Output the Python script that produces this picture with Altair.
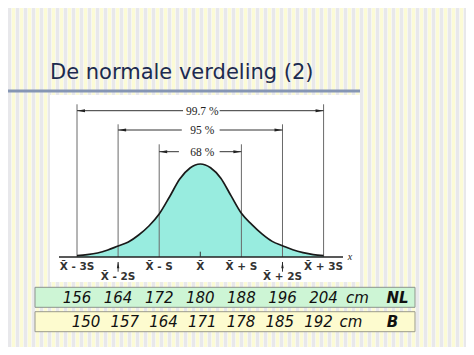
import altair as alt
import pandas as pd

# ---------------- data ----------------
title_text = "De normale verdeling (2)"

curve_z = [-3, -2.75, -2.5, -2.25, -2, -1.75, -1.5, -1.25, -1, -0.75, -0.5, -0.25, 0,
           0.25, 0.5, 0.75, 1, 1.25, 1.5, 1.75, 2, 2.25, 2.5, 2.75, 3]
curve_density = [0.0056, 0.0099, 0.0172, 0.030, 0.0472, 0.0644, 0.0944, 0.133, 0.1845,
                 0.2574, 0.3346, 0.382, 0.399,
                 0.383, 0.338, 0.262, 0.1875, 0.140, 0.099, 0.067, 0.0485, 0.031, 0.0185,
                 0.010, 0.0056]

sd_steps = [-3, -2, -1, 0, 1, 2, 3]
X = "X\u0304"
sd_labels = [f"{X} - 3S", f"{X} - 2S", f"{X} - S", X, f"{X} + S", f"{X} + 2S", f"{X} + 3S"]

coverage_labels = ["99.7 %", "95  %", "68  %"]
coverage_k = [3, 2, 1]

nl_cm = [156, 164, 172, 180, 188, 196, 204]
b_cm = [150, 157, 164, 171, 178, 185, 192]
unit_label = "cm"
row_names = ["NL", "B"]

# ---------------- layout (pixels, styles) ----------------
W, H = 310, 187
PAD = {"left": 42, "top": 87, "right": 106, "bottom": 65}
Z_DOM = [-3.657, 3.886]
Y_DOM = [-0.1073, 0.695]
LINE_TOP = {3: 9.3, 2: 29.3, 1: 49.3}
ARROW_Y = {3: 15.7, 2: 35.0, 1: 56.7}
GAP = {3: (-0.42, 0.47), 2: (-0.45, 0.47), 1: (-0.52, 0.47)}
ZS = 41.1      # pixels per sd unit
Z0 = 200.3     # page x of the mean

XSCALE = alt.Scale(domain=Z_DOM, nice=False, zero=False)
YSCALE = alt.Scale(domain=Y_DOM, nice=False, zero=False)


def xz(field):
    return alt.X(field, type="quantitative", scale=XSCALE, axis=None)


def yd(field):
    return alt.Y(field, type="quantitative", scale=YSCALE, axis=None)


one = pd.DataFrame({"t": [title_text], "zero": [0]})

layers = []

# striped slide background
for off, w, col in [(0.0, 3.0, "#e8e8eb"), (4.0, 3.0, "#fcfbd6")]:
    layers.append(
        alt.Chart(alt.sequence(0, 60, as_="i"))
        .transform_calculate(
            a=f"(datum.i * 8 + {off} - {Z0}) / {ZS}",
            b=f"(datum.i * 8 + {off + w} - {Z0}) / {ZS}")
        .mark_rect(color=col)
        .encode(x=xz("a"), x2="b:Q", y=alt.value(-87), y2=alt.value(252))
    )

# white panel
layers.append(alt.Chart(one).mark_rect(color="white").encode(
    x=alt.value(0), x2=alt.value(W), y=alt.value(0), y2=alt.value(H)))

# title + underline
layers.append(alt.Chart(one).mark_rule(color="#8696b4", strokeWidth=3).encode(
    x=alt.value(-42), x2=alt.value(W), y=alt.value(-4)))
layers.append(alt.Chart(one).mark_text(
    align="left", baseline="alphabetic", font="DejaVu Sans", fontSize=21, color="#1c2b4f"
).encode(x=alt.value(0), y=alt.value(-16), text="t:N"))

# curve fill
curve = pd.DataFrame({"z": curve_z, "d": curve_density})
layers.append(alt.Chart(curve).mark_area(color="#98ecdf", interpolate="monotone").encode(
    x=xz("z"), y=yd("d")))

# vertical lines, arrows and coverage labels
for k, lab in zip(coverage_k, coverage_labels):
    vl = pd.DataFrame({"z": [-k, k], "zero": [0, 0]})
    layers.append(alt.Chart(vl).mark_rule(color="#6a6a6a", strokeWidth=1).encode(
        x=xz("z"), y=yd("zero"), y2=alt.value(LINE_TOP[k])))
    gl, gr = GAP[k]
    seg = pd.DataFrame({"z1": [-k, gr], "z2": [gl, k]})
    ay = ARROW_Y[k]
    layers.append(alt.Chart(seg).mark_rule(color="#333333", strokeWidth=1).encode(
        x=xz("z1"), x2="z2:Q", y=alt.value(ay)))
    layers.append(alt.Chart(pd.DataFrame({"z": [-k]})).mark_point(
        shape="M -1 0 L 1 -0.36 L 1 0.36 Z", filled=True, size=64, color="#222222",
        opacity=1, xOffset=4).encode(x=xz("z"), y=alt.value(ay)))
    layers.append(alt.Chart(pd.DataFrame({"z": [k]})).mark_point(
        shape="M 1 0 L -1 -0.36 L -1 0.36 Z", filled=True, size=64, color="#222222",
        opacity=1, xOffset=-4).encode(x=xz("z"), y=alt.value(ay)))
    layers.append(alt.Chart(pd.DataFrame({"z": [0], "t": [lab]})).mark_text(
        font="Liberation Serif", fontSize=11.5, color="#222222", align="center",
        baseline="middle", dx=2).encode(x=xz("z"), y=alt.value(ay + 1), text="t:N"))

# curve outline
layers.append(alt.Chart(curve).mark_line(color="#1a1a1a", strokeWidth=1.7,
                                         interpolate="monotone").encode(x=xz("z"), y=yd("d")))

# baseline axis, mean tick, x label
layers.append(alt.Chart(one).mark_rule(color="#222222", strokeWidth=1.5).encode(
    x=alt.value(9), x2=alt.value(293), y=yd("zero")))
layers.append(alt.Chart(pd.DataFrame({"z": [0], "zero": [0]})).mark_rule(
    color="#333333", strokeWidth=1).encode(x=xz("z"), y=yd("zero"), y2=alt.value(156.7)))
layers.append(alt.Chart(pd.DataFrame({"t": ["x"]})).mark_text(
    font="Liberation Serif", fontStyle="italic", fontSize=10, color="#222222", align="center",
    baseline="alphabetic").encode(x=alt.value(300), y=alt.value(165), text="t:N"))

# sd labels
sd = pd.DataFrame({"z": sd_steps, "t": sd_labels})
lab_style = dict(font="DejaVu Sans", fontSize=10.5, fontWeight="bold", color="#333333",
                 align="center", baseline="alphabetic")
layers.append(alt.Chart(sd).transform_filter("abs(datum.z) != 2").mark_text(**lab_style).encode(
    x=xz("z"), y=alt.value(174.5), text="t:N"))
layers.append(alt.Chart(sd).transform_filter("abs(datum.z) == 2").mark_text(**lab_style).encode(
    x=xz("z"), y=alt.value(184.5), text="t:N"))
layers.append(alt.Chart(sd).transform_filter("abs(datum.z) == 2").mark_rule(
    color="#333333", strokeWidth=1).encode(x=xz("z"), y=alt.value(167), y2=alt.value(176.7)))
layers.append(alt.Chart(sd).transform_filter("abs(datum.z) == 2").mark_point(
    shape="M 0 -1 L -0.38 1 L 0.38 1 Z", filled=True, size=40, color="#222222", opacity=1
).encode(x=xz("z"), y=alt.value(170)))

# tables
layers.append(alt.Chart(one).mark_rect(color="#cdf5d5", stroke="#8c948c", strokeWidth=1).encode(
    x=alt.value(-15), x2=alt.value(365), y=alt.value(192.3), y2=alt.value(212.3)))
layers.append(alt.Chart(one).mark_rect(color="#fdfbcf", stroke="#9a9a8c", strokeWidth=1).encode(
    x=alt.value(-15), x2=alt.value(365), y=alt.value(216.7), y2=alt.value(236.7)))

row_style = dict(font="DejaVu Sans", fontStyle="italic", fontSize=15, color="#111111",
                 align="center", baseline="alphabetic")
# NL row sits under the sd positions (mean 180, s = 8 cm)
layers.append(alt.Chart(pd.DataFrame({"cm": nl_cm}))
              .transform_calculate(pz="(datum.cm - 180) / 8")
              .mark_text(**row_style).encode(
    x=xz("pz"), y=alt.value(208.3), text=alt.Text("cm:Q", format="d")))
# B row is set as a text line (about 5.54 px per cm, starting at page x 86)
layers.append(alt.Chart(pd.DataFrame({"cm": b_cm}))
              .transform_calculate(pz=f"(86 + (datum.cm - 150) * 5.536 - {Z0}) / {ZS}")
              .mark_text(**row_style).encode(
    x=xz("pz"), y=alt.value(231.7), text=alt.Text("cm:Q", format="d")))
layers.append(alt.Chart(pd.DataFrame({"t": [unit_label]})).mark_text(**row_style).encode(
    x=alt.value(307.5), y=alt.value(208.3), text="t:N"))
layers.append(alt.Chart(pd.DataFrame({"t": [unit_label]})).mark_text(**row_style).encode(
    x=alt.value(301), y=alt.value(231.7), text="t:N"))
bold_style = dict(row_style, fontWeight="bold")
layers.append(alt.Chart(pd.DataFrame({"t": [row_names[0]]})).mark_text(**bold_style).encode(
    x=alt.value(347.5), y=alt.value(208.3), text="t:N"))
layers.append(alt.Chart(pd.DataFrame({"t": [row_names[1]]})).mark_text(**bold_style).encode(
    x=alt.value(342.5), y=alt.value(231.7), text="t:N"))

chart = (
    alt.layer(*layers)
    .properties(width=W, height=H, padding=PAD, autosize="none", background="#f7f7f0")
    .configure_view(stroke=None)
)

chart.save("out.html", embed_options={"renderer": "svg", "actions": False})
